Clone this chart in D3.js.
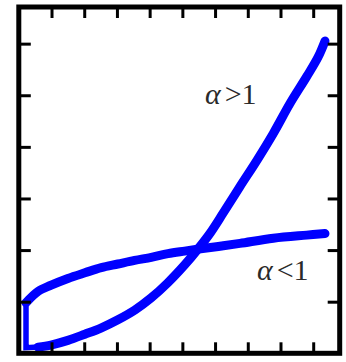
<!DOCTYPE html>
<html>
<head>
<meta charset="utf-8">
<script src="https://cdn.jsdelivr.net/npm/d3@7"></script>
<style>
html,body{margin:0;padding:0;background:#fff;}
svg{display:block;}
</style>
</head>
<body>
<svg id="chart" width="346" height="362"></svg>
<script>
// ---- data ----
const xTicks = [1,2,3,4,5,6,7,8,9];
const yTicks = [1,2,3,4,5,6];
const xDomain = [0, 9.81];
const yDomain = [0, 6.71];

// curve for alpha < 1
const alphaLtX = [0.22, 0.59, 0.99, 1.50, 2.02, 2.52, 3.03, 3.54, 4.05, 4.56, 5.07, 5.50, 6.10, 6.76, 7.78, 8.80, 9.36];
const alphaLtY = [0.98, 1.20, 1.32, 1.45, 1.56, 1.66, 1.73, 1.80, 1.86, 1.93, 1.98, 2.02, 2.07, 2.13, 2.23, 2.29, 2.32];

// curve for alpha > 1
const alphaGtX = [0.22, 0.59, 0.98, 1.50, 2.02, 2.51, 3.03, 3.55, 4.04, 4.56, 5.08, 5.45, 5.85, 6.25, 6.76, 7.28, 7.78, 8.29, 8.80, 9.15, 9.36];
const alphaGtY = [0.11, 0.12, 0.16, 0.25, 0.37, 0.49, 0.65, 0.84, 1.07, 1.37, 1.72, 2.00, 2.33, 2.72, 3.23, 3.74, 4.26, 4.84, 5.36, 5.74, 6.05];

const labels = [
  {greek: "α", rest: ">1", x: 5.69, y: 4.83},
  {greek: "α", rest: "<1", x: 7.28, y: 1.42}
];

// ---- chart ----
const svg = d3.select("#chart");
const x = d3.scaleLinear().domain(xDomain).range([18.8, 339.7]);
const y = d3.scaleLinear().domain(yDomain).range([353.3, 7]);

const lt = alphaLtX.map((v,i)=>[v, alphaLtY[i]]);
const gt = alphaGtX.map((v,i)=>[v, alphaGtY[i]]);

const line = d3.line().x(d=>x(d[0])).y(d=>y(d[1])).curve(d3.curveCatmullRom.alpha(0.5));

// connector from the start of alpha<1 down to the start of alpha>1
svg.append("path")
  .attr("d", d3.line().x(d=>x(d[0])).y(d=>y(d[1]))([lt[0], [lt[0][0], gt[0][1]], gt[1]]))
  .attr("fill","none").attr("stroke","#0000ff").attr("stroke-width",5.5)
  .attr("stroke-linejoin","miter");

[lt, gt].forEach(s=>{
  svg.append("path").attr("d", line(s.slice(s===gt?1:0)))
    .attr("fill","none").attr("stroke","#0000ff").attr("stroke-width",9)
    .attr("stroke-linecap","round").attr("stroke-linejoin","round");
});

// ticks (inward)
function styleAxis(g){
  g.select(".domain").remove();
  g.selectAll(".tick line").attr("stroke","#000").attr("stroke-width",3);
  g.selectAll(".tick text").remove();
}
svg.append("g").attr("transform",`translate(0,${y(yDomain[0])})`)
  .call(d3.axisBottom(x).tickValues(xTicks).tickSize(-11).tickFormat("")).call(styleAxis);
svg.append("g").attr("transform",`translate(0,${y(yDomain[1])})`)
  .call(d3.axisTop(x).tickValues(xTicks).tickSize(-11).tickFormat("")).call(styleAxis);
svg.append("g").attr("transform",`translate(${x(xDomain[0])},0)`)
  .call(d3.axisLeft(y).tickValues(yTicks).tickSize(-12).tickFormat("")).call(styleAxis);
svg.append("g").attr("transform",`translate(${x(xDomain[1])},0)`)
  .call(d3.axisRight(y).tickValues(yTicks).tickSize(-12).tickFormat("")).call(styleAxis);

// frame
svg.append("rect")
  .attr("x", x(xDomain[0])).attr("y", y(yDomain[1]))
  .attr("width", x(xDomain[1]) - x(xDomain[0]))
  .attr("height", y(yDomain[0]) - y(yDomain[1]))
  .attr("fill","none").attr("stroke","#000").attr("stroke-width",5);

// labels
labels.forEach(l=>{
  const t = svg.append("text").attr("x", x(l.x)).attr("y", y(l.y))
    .attr("font-family","'Liberation Serif', 'DejaVu Serif', serif")
    .attr("font-size", 30).attr("fill","#2a2a2a");
  t.append("tspan").attr("font-style","italic").text(l.greek);
  t.append("tspan").attr("dx", 4).text(l.rest);
});
</script>
</body>
</html>
